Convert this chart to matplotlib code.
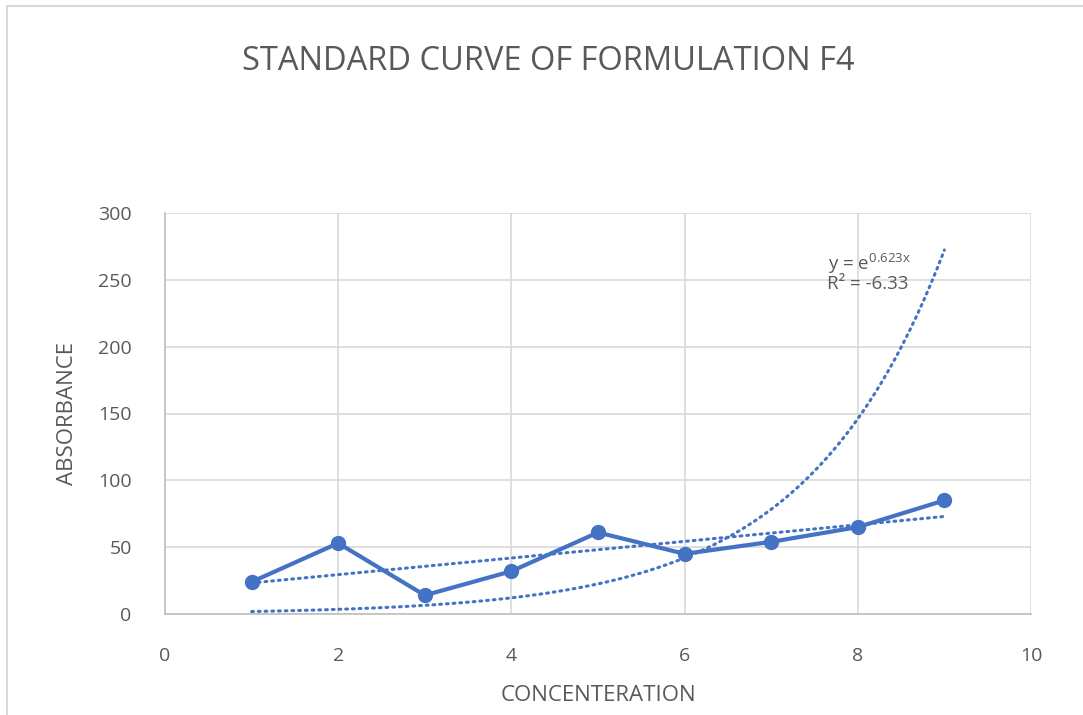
import numpy as np
import matplotlib
matplotlib.use("Agg")
import matplotlib.pyplot as plt
from matplotlib.lines import Line2D

plt.rcParams['font.family'] = ['Open Sans', 'DejaVu Sans']
plt.rcParams['mathtext.fontset'] = 'custom'
plt.rcParams['mathtext.rm'] = 'Open Sans'
plt.rcParams['mathtext.it'] = 'Open Sans'

# data
concentration = [1, 2, 3, 4, 5, 6, 7, 8, 9]
absorbance = [24, 53, 14, 32, 61, 45, 54, 65, 85]
exp_coef = 0.623          # from trendline label y = e^(0.623x)
r2_label = "-6.33"

blue = '#4472C4'
grid_c = '#D9D9D9'
text_c = '#595959'

fig = plt.figure(figsize=(10.83, 7.15), dpi=100)
ax = fig.add_axes([165 / 1083, 1 - 614 / 715, (1031 - 165) / 1083, (614 - 213) / 715])

# chart border (top and left visible)
fig.add_artist(Line2D([6.5 / 1083, 6.5 / 1083], [0, 1 - 6 / 715], transform=fig.transFigure,
                      color=grid_c, lw=1.5))
fig.add_artist(Line2D([6.5 / 1083, 1], [1 - 6 / 715, 1 - 6 / 715], transform=fig.transFigure,
                      color=grid_c, lw=1.5))

x = np.array(concentration, dtype=float)
y = np.array(absorbance, dtype=float)

# linear trendline
m, b = np.polyfit(x, y, 1)
xs = np.linspace(x.min(), x.max(), 200)
ax.plot(xs, m * xs + b, color=blue, lw=2.2, ls=(0, (0.6, 1.6)), dash_capstyle='round', zorder=3)

# exponential trendline
ax.plot(xs, np.exp(exp_coef * xs), color=blue, lw=2.2, ls=(0, (0.6, 1.6)),
        dash_capstyle='round', zorder=3)

# data series
ax.plot(x, y, color=blue, lw=3, marker='o', markersize=10, zorder=4)

ax.set_xlim(0, 10)
ax.set_ylim(0, 300)
ax.set_xticks(range(0, 11, 2))
ax.set_yticks(range(0, 301, 50))
ax.grid(True, color=grid_c, lw=1.2)
ax.set_axisbelow(True)
for s in ['top', 'right']:
    ax.spines[s].set_visible(False)
ax.spines['left'].set_color('#BFBFBF')
ax.spines['bottom'].set_color('#BFBFBF')
ax.spines['left'].set_linewidth(1.2)
ax.spines['bottom'].set_linewidth(1.2)
ax.tick_params(length=0, labelsize=14, colors=text_c)
ax.tick_params(axis='x', pad=24)
ax.tick_params(axis='y', pad=24)

ax.set_xlabel("CONCENTERATION", fontsize=16, color=text_c, labelpad=14)
ax.set_ylabel("ABSORBANCE", fontsize=16, color=text_c, labelpad=14)

fig.text(548 / 1083, 1 - 62 / 715, "STANDARD CURVE OF FORMULATION F4", fontsize=23.5,
         color=text_c, ha='center', va='center')

ax.text(7.66, 257.5, r"y = e$^{0.623x}$", fontsize=13.5, color=text_c, ha='left', va='baseline')
ax.text(7.65, 243, "R² = " + r2_label, fontsize=13.5, color=text_c, ha='left', va='baseline')

fig.savefig("out.png", dpi=100)
